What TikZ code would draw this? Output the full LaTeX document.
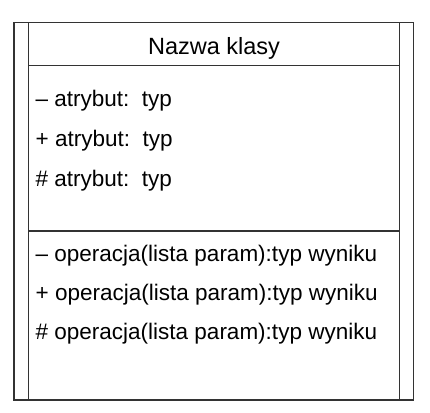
\documentclass[tikz,border=0pt]{standalone}
\usepackage{fontspec}
\setmainfont{Liberation Sans}
\begin{document}
\begin{tikzpicture}[x=1pt,y=-1pt,
  frame/.style={draw=black!80,line width=1.3pt},
  member/.style={anchor=base west,inner sep=0pt,font=\fontsize{22.5}{27}\selectfont},
  title/.style={anchor=base,inner sep=0pt,font=\fontsize{23.5}{28}\selectfont}]
  \useasboundingbox (0,0) rectangle (430,412);
  % outer frame and inner side rails
  \draw[frame] (14,22.7) rectangle (413.7,400);
  \draw[frame] (28.7,22.7) -- (28.7,400);
  \draw[frame] (399.3,22.7) -- (399.3,400);
  % compartment separators
  \draw[frame] (28.7,65.3) -- (399.3,65.3);
  \draw[frame] (28.7,231) -- (399.3,231);
  % class name
  \node[title] (name) at (214,54.3) {Nazwa klasy};
  % attributes
  \node[member] (a1) at (35.5,106) {– atrybut:\ \ typ};
  \node[member] (a2) at (35.5,146.5) {+ atrybut:\ \ typ};
  \node[member] (a3) at (35.5,186) {\# atrybut:\ \ typ};
  % operations
  \node[member] (o1) at (35.5,261) {– operacja(lista param):typ wyniku};
  \node[member] (o2) at (35.5,300) {+ operacja(lista param):typ wyniku};
  \node[member] (o3) at (35.5,339) {\# operacja(lista param):typ wyniku};
\end{tikzpicture}
\end{document}
